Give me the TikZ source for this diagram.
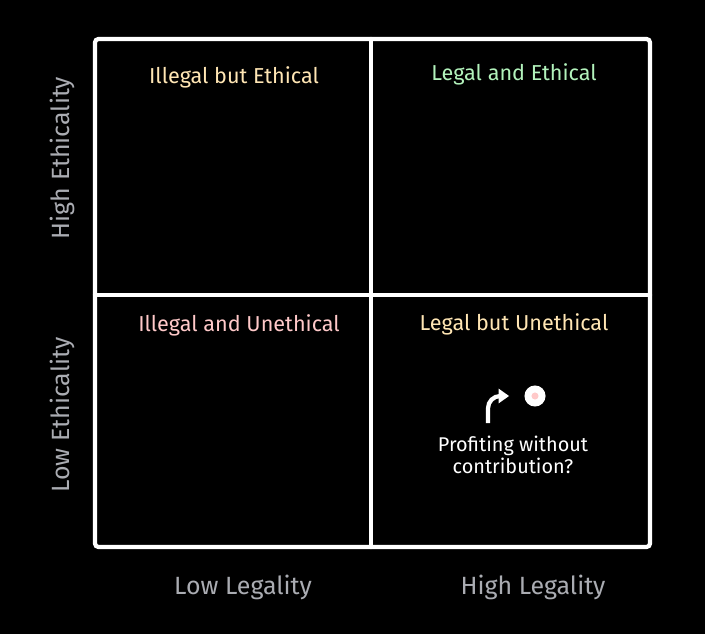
\documentclass[tikz,border=0pt]{standalone}
\usepackage{fontspec}
\setmainfont{Fira Sans}
\usetikzlibrary{arrows.meta,positioning}
\definecolor{quadCream}{RGB}{255, 230, 180}
\definecolor{quadGreen}{RGB}{178, 242, 187}
\definecolor{quadPink}{RGB}{255, 201, 201}
\definecolor{axisGrey}{RGB}{170, 172, 178}
\begin{document}
\begin{tikzpicture}[
  x=0.02cm, y=-0.02cm,
  frame/.style={draw=white, line width=2.4pt, rounded corners=2pt, line cap=round},
  quad/.style={font=\fontsize{12.3}{14}\selectfont},
  axis/.style={text=axisGrey, font=\fontsize{14.2}{16}\selectfont},
  pointer/.style={-{Triangle[length=6pt,width=8pt]}, draw=white, line width=2.4pt,
    rounded corners=7pt, shorten >=0.3cm},
  note/.style={text=white, align=center, font=\fontsize{11.3}{12.8}\selectfont}
]
  % canvas
  \fill[black] (0,0) rectangle (705,634);
  \useasboundingbox (0,0) rectangle (705,634);

  % the grid
  \coordinate (nw) at (95,39);
  \coordinate (se) at (650,547);
  \draw[frame] (nw) rectangle (se);
  \draw[frame] (371,39) -- (371,547);
  \draw[frame] (95,295) -- (650,295);

  % quadrant labels
  \node[quad,text=quadCream] (ilEth) at (234,77) {Illegal but Ethical};
  \node[quad,text=quadGreen] (legEth) at (514,74) {Legal and Ethical};
  \node[quad,text=quadPink] (ilUneth) at (239,325) {Illegal and Unethical};
  \node[quad,text=quadCream] (legUneth) at (514,324) {Legal but Unethical};

  % axes
  \node[axis,rotate=90] (hiEth) at (62,158) {High Ethicality};
  \node[axis,rotate=90] (loEth) at (62,415) {Low Ethicality};
  \node[axis] (loLeg) at (243,587) {Low Legality};
  \node[axis] (hiLeg) at (533,587) {High Legality};

  % the marked case
  \node[circle, fill=white, minimum size=12pt, inner sep=0pt] (dot) at (535,396) {};
  \node[circle, fill=quadPink, minimum size=4pt, inner sep=0pt] at (dot) {};
  \coordinate (tail) at (488,423);
  \draw[pointer] (tail) |- (dot);
  \node[note] (profit) at (513,455) {Profiting without\\contribution?};
\end{tikzpicture}
\end{document}
